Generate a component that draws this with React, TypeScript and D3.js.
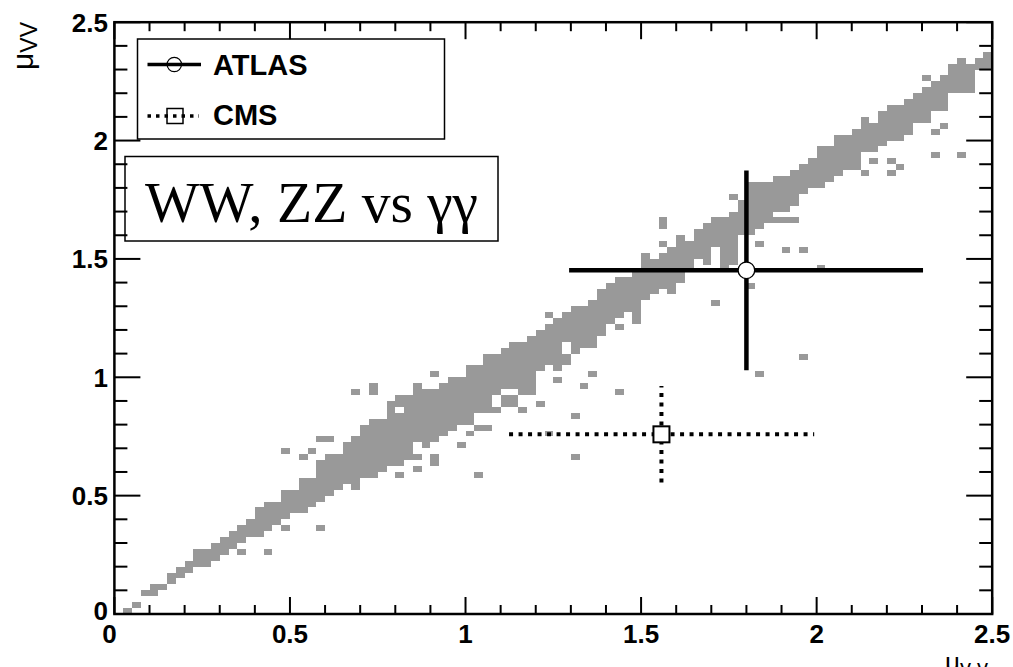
import React from "react";
import * as d3 from "d3";

// ---- data ----
const BIN = 0.025;
// per x-bin (0.025 wide) lowest and highest filled y-bin of the main band (-1 = empty)
const bandLo = [
  -1, 0, 1, 3, 3, 4, 5, 6, 7, 8,
  8, 9, 10, 11, 12, 13, 13, 14, 15, 16,
  17, 17, 18, 19, 20, 21, 22, 21, 23, 23,
  24, 25, 25, 26, 29, 28, 29, 30, 31, 32,
  32, 34, 34, 37, 35, 35, 37, 37, 41, 42,
  42, 42, 44, 45, 45, 47, 49, 50, 51, 49,
  53, 54, 55, 55, 56, 58, 60, 59, 62, 58,
  59, 64, 64, 65, 66, 68, 68, 69, 71, 72,
  72, 73, 74, 75, 75, 78, 78, 79, 80, 80,
  81, 83, 83, 85, 85, 88, 88, 88, 92, 92,
];
const bandHi = [
  -1, 0, 1, 3, 4, 4, 6, 7, 8, 10,
  10, 11, 12, 13, 14, 15, 17, 18, 18, 20,
  20, 22, 22, 25, 26, 26, 28, 29, 31, 32,
  32, 35, 36, 36, 38, 37, 37, 38, 39, 39,
  41, 41, 43, 43, 44, 45, 45, 46, 47, 48,
  49, 50, 51, 51, 52, 54, 55, 56, 56, 57,
  60, 59, 60, 61, 63, 62, 64, 65, 66, 66,
  67, 69, 72, 72, 72, 73, 73, 74, 75, 76,
  78, 78, 80, 80, 81, 83, 82, 84, 85, 85,
  86, 87, 88, 89, 90, 92, 93, 92, 93, 94,
];
// isolated filled bins [xBin, yBin]
const extraCells: [number, number][] = [
  [14, 10], [17, 10], [19, 14], [23, 14], [19, 27], [21, 26], [22, 27], [23, 29], [24, 29],
  [27, 37], [29, 37], [29, 38], [32, 23], [34, 24], [34, 26], [36, 25], [36, 26], [36, 40],
  [39, 28], [40, 30], [41, 31], [42, 31], [41, 23], [43, 34], [46, 34], [48, 35], [49, 30],
  [49, 50], [50, 39], [50, 41], [52, 26], [52, 33], [53, 38], [54, 40], [57, 37], [57, 48],
  [62, 62], [62, 65], [62, 66], [63, 54], [68, 52], [70, 70], [72, 55], [73, 40], [73, 62],
  [75, 66], [76, 66], [77, 66], [76, 61], [78, 61], [78, 43], [80, 58], [85, 74], [88, 74],
  [89, 75], [86, 76], [88, 76], [93, 77], [96, 77], [93, 81], [94, 82], [92, 90],
];
// empty bins inside the band
const holeCells: [number, number][] = [
  [32, 34], [44, 37], [45, 37], [51, 44], [51, 45],
];

const atlasPoint = { x: 1.8, y: 1.452, xLo: 1.295, xHi: 2.303, yLo: 1.03, yHi: 1.873 };
const cmsPoint = { x: 1.558, y: 0.759, xLo: 1.124, xHi: 1.993, yLo: 0.555, yHi: 0.963 };

const majorTicks = [0, 0.5, 1, 1.5, 2, 2.5];
const tickLabels = ["0", "0.5", "1", "1.5", "2", "2.5"];
const minorTicks = d3.range(0, 26).map((i) => i / 10);

const legendLabels = ["ATLAS", "CMS"];
const boxText = "WW, ZZ vs γγ";

// ---- layout ----
const W = 1013;
const H = 667;
const x = d3.scaleLinear().domain([0, 2.5]).range([114.4, 992.2]);
const y = d3.scaleLinear().domain([0, 2.5]).range([614, 22.2]);
const GRAY = "#999999";
const SANS = "'Liberation Sans', Arial, Helvetica, sans-serif";

function buildCells() {
  const key = (c: number, r: number) => c * 1000 + r;
  const holes = new Set(holeCells.map(([c, r]) => key(c, r)));
  const cells: [number, number][] = [];
  bandLo.forEach((lo, c) => {
    const hi = bandHi[c];
    if (lo < 0) return;
    for (let r = lo; r <= hi; r++) if (!holes.has(key(c, r))) cells.push([c, r]);
  });
  extraCells.forEach((cell) => cells.push(cell));
  return cells;
}

export default function App() {
  const cells = buildCells();
  const x0 = x(0), x1 = x(2.5), y0 = y(0), y1 = y(2.5);
  const isMajor = (v: number) => Math.abs(v * 2 - Math.round(v * 2)) < 1e-6;

  const ax = x(atlasPoint.x), ay = y(atlasPoint.y);
  const cx = x(cmsPoint.x), cy = y(cmsPoint.y);

  return (
    <div style={{ position: "absolute", left: 0, top: 0 }}>
      <svg width={W} height={H} style={{ display: "block", background: "#fff" }}>
        <rect x={0} y={0} width={W} height={H} fill="#fff" />
        {/* 2D histogram */}
        <g fill={GRAY} shapeRendering="crispEdges">
          {cells.map(([c, r], i) => (
            <rect
              key={i}
              x={x(c * BIN)}
              y={y((r + 1) * BIN)}
              width={x((c + 1) * BIN) - x(c * BIN)}
              height={y(r * BIN) - y((r + 1) * BIN)}
            />
          ))}
        </g>

        {/* CMS (dotted) */}
        <g stroke="#000" strokeWidth={4} strokeDasharray="4 5.5" fill="none">
          <line x1={x(cmsPoint.xLo)} x2={x(cmsPoint.xHi)} y1={cy} y2={cy} />
          <line x1={cx} x2={cx} y1={y(cmsPoint.yLo)} y2={y(cmsPoint.yHi)} />
        </g>
        <rect x={cx - 8} y={cy - 8} width={16} height={16} fill="#fff" stroke="#000" strokeWidth={2} />

        {/* ATLAS (solid) */}
        <g stroke="#000" strokeWidth={4.5}>
          <line x1={x(atlasPoint.xLo)} x2={x(atlasPoint.xHi)} y1={ay} y2={ay} />
          <line x1={ax} x2={ax} y1={y(atlasPoint.yLo)} y2={y(atlasPoint.yHi)} />
        </g>
        <circle cx={ax} cy={ay} r={8.3} fill="#fff" stroke="#000" strokeWidth={1.3} />

        {/* legend */}
        <rect x={137.5} y={39} width={307} height={100} fill="#fff" stroke="#000" strokeWidth={1.5} />
        <line x1={147.5} x2={201} y1={64.5} y2={64.5} stroke="#000" strokeWidth={3.5} />
        <circle cx={174.3} cy={64.5} r={7.2} fill="none" stroke="#000" strokeWidth={1.2} />
        <text x={213} y={75} fontFamily={SANS} fontWeight="bold" fontSize={29}>{legendLabels[0]}</text>
        <line x1={147.5} x2={199} y1={116} y2={116} stroke="#000" strokeWidth={3.5} strokeDasharray="3.5 5" />
        <rect x={167} y={108.5} width={16} height={15} fill="none" stroke="#000" strokeWidth={1.5} />
        <text x={213} y={125} fontFamily={SANS} fontWeight="bold" fontSize={29}>{legendLabels[1]}</text>

        {/* text box */}
        <rect x={125} y={156.5} width={373} height={84.5} fill="#fff" stroke="#000" strokeWidth={1.5} />
        <text x={145} y={222} fontFamily="'Liberation Serif', 'Times New Roman', serif" fontSize={57.5}>{boxText}</text>

        {/* frame and ticks */}
        <rect x={x0} y={y1} width={x1 - x0} height={y0 - y1} fill="none" stroke="#000" strokeWidth={2.5} />
        <g stroke="#000" strokeWidth={2}>
          {minorTicks.map((v) => {
            const L = isMajor(v) ? 17 : 9;
            const Ly = isMajor(v) ? 26 : 13;
            return (
              <g key={v}>
                <line x1={x(v)} x2={x(v)} y1={y0} y2={y0 - L} />
                <line x1={x(v)} x2={x(v)} y1={y1} y2={y1 + L} />
                <line x1={x0} x2={x0 + Ly} y1={y(v)} y2={y(v)} />
                <line x1={x1} x2={x1 - Ly} y1={y(v)} y2={y(v)} />
              </g>
            );
          })}
        </g>
        <g fontFamily={SANS} fontWeight="bold" fontSize={26} fill="#000">
          {majorTicks.map((v, i) => (
            <text key={"x" + v} x={x(v) - (v === 0 ? 5 : 0)} y={643} textAnchor="middle">{tickLabels[i]}</text>
          ))}
          {majorTicks.map((v, i) => (
            <text key={"y" + v} x={108} y={y(v) + 9.3 - (v === 0 ? 3 : 0)} textAnchor="end">{tickLabels[i]}</text>
          ))}
        </g>

        {/* axis titles */}
        <text transform="rotate(-90)" x={-22} y={33} textAnchor="end" fontFamily={SANS} fontSize={30} fill="#000">
          μ<tspan fontSize={23} dy={4}>VV</tspan>
        </text>
        <text x={988} y={671} textAnchor="end" fontFamily={SANS} fontSize={26} fill="#000">
          μ<tspan fontSize={22} dy={4}>γ γ</tspan>
        </text>
      </svg>
    </div>
  );
}
